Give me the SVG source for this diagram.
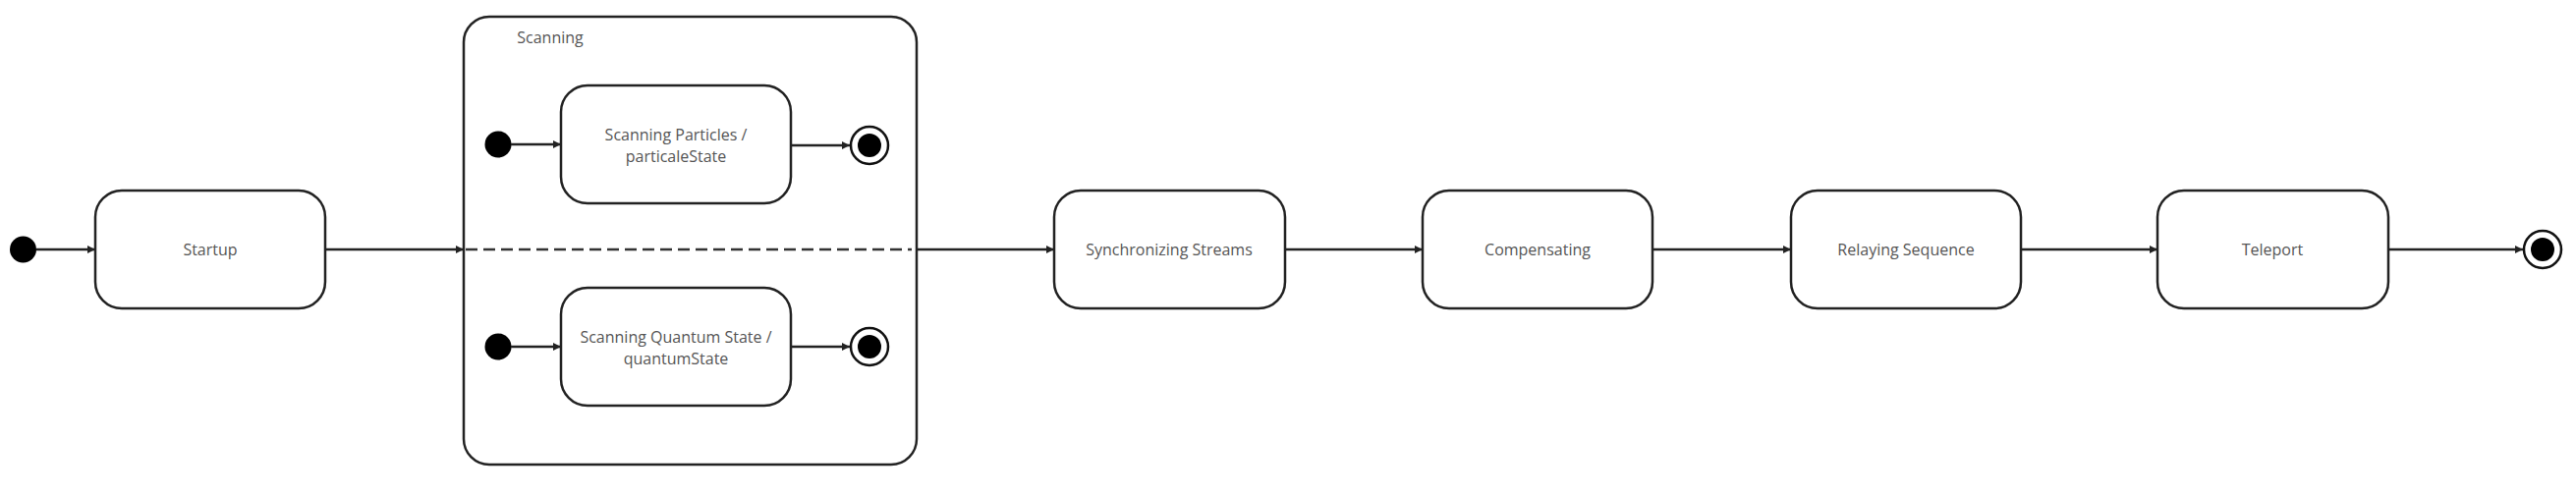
<svg xmlns="http://www.w3.org/2000/svg" width="2622" height="504" viewBox="0 0 2622 504">
<defs>
<style>
.state{fill:#fff;stroke:#222;stroke-width:2.5}
.lbl{font-family:"Open Sans","Liberation Sans",sans-serif;font-size:16px;fill:#555;text-anchor:middle;dominant-baseline:central}
.edge{stroke:#222;stroke-width:2.5;fill:none}
.dash{stroke:#333;stroke-width:2.5;fill:none;stroke-dasharray:12 6}
.init{fill:#000}
.fring{fill:#fff;stroke:#111;stroke-width:2.5}
</style>
<marker id="arr" viewBox="0 0 10 10" refX="10" refY="5" markerWidth="9" markerHeight="8" markerUnits="userSpaceOnUse" orient="auto">
<path d="M0,0 L10,5 L0,10 z" fill="#222"/>
</marker>
</defs>
<rect width="2622" height="504" fill="#fff"/>

<g id="scanning">
<rect class="state" x="472" y="17" width="461" height="456" rx="26"/>
<text class="lbl" x="560" y="38" style="text-anchor:middle">Scanning</text>
</g>

<g id="init0"><circle class="init" cx="23.5" cy="254" r="13.5"/></g>
<g id="startup"><rect class="state" x="97" y="194" width="234" height="120" rx="27"/><text class="lbl" x="214" y="254">Startup</text></g>

<g id="init1"><circle class="init" cx="507" cy="147" r="13.5"/></g>
<g id="particles"><rect class="state" x="571" y="87" width="234" height="120" rx="27"/><text class="lbl" x="688" y="137">Scanning Particles /</text><text class="lbl" x="688" y="159">particaleState</text></g>
<g id="final1"><circle class="fring" cx="885" cy="148" r="19"/><circle class="init" cx="885" cy="148" r="12"/></g>

<g id="init2"><circle class="init" cx="507" cy="353" r="13.5"/></g>
<g id="quantum"><rect class="state" x="571" y="293" width="234" height="120" rx="27"/><text class="lbl" x="688" y="343">Scanning Quantum State /</text><text class="lbl" x="688" y="365">quantumState</text></g>
<g id="final2"><circle class="fring" cx="885" cy="353" r="19"/><circle class="init" cx="885" cy="353" r="12"/></g>

<g id="sync"><rect class="state" x="1073" y="194" width="235" height="120" rx="27"/><text class="lbl" x="1190" y="254">Synchronizing Streams</text></g>
<g id="comp"><rect class="state" x="1448" y="194" width="234" height="120" rx="27"/><text class="lbl" x="1565" y="254">Compensating</text></g>
<g id="relay"><rect class="state" x="1823" y="194" width="234" height="120" rx="27"/><text class="lbl" x="1940" y="254">Relaying Sequence</text></g>
<g id="teleport"><rect class="state" x="2196" y="194" width="235" height="120" rx="27"/><text class="lbl" x="2313" y="254">Teleport</text></g>
<g id="final0"><circle class="fring" cx="2588" cy="254" r="19"/><circle class="init" cx="2588" cy="254" r="12"/></g>

<g id="connectors">
<line class="edge" x1="37" y1="254" x2="97" y2="254" marker-end="url(#arr)"/>
<line class="edge" x1="331" y1="254" x2="472" y2="254" marker-end="url(#arr)"/>
<line class="dash" x1="474" y1="254" x2="928" y2="254"/>
<line class="edge" x1="933" y1="254" x2="1073" y2="254" marker-end="url(#arr)"/>
<line class="edge" x1="520" y1="147" x2="571" y2="147" marker-end="url(#arr)"/>
<line class="edge" x1="805" y1="148" x2="865" y2="148" marker-end="url(#arr)"/>
<line class="edge" x1="520" y1="353" x2="571" y2="353" marker-end="url(#arr)"/>
<line class="edge" x1="805" y1="353" x2="865" y2="353" marker-end="url(#arr)"/>
<line class="edge" x1="1308" y1="254" x2="1448" y2="254" marker-end="url(#arr)"/>
<line class="edge" x1="1682" y1="254" x2="1823" y2="254" marker-end="url(#arr)"/>
<line class="edge" x1="2057" y1="254" x2="2196" y2="254" marker-end="url(#arr)"/>
<line class="edge" x1="2431" y1="254" x2="2568" y2="254" marker-end="url(#arr)"/>
</g>
</svg>
